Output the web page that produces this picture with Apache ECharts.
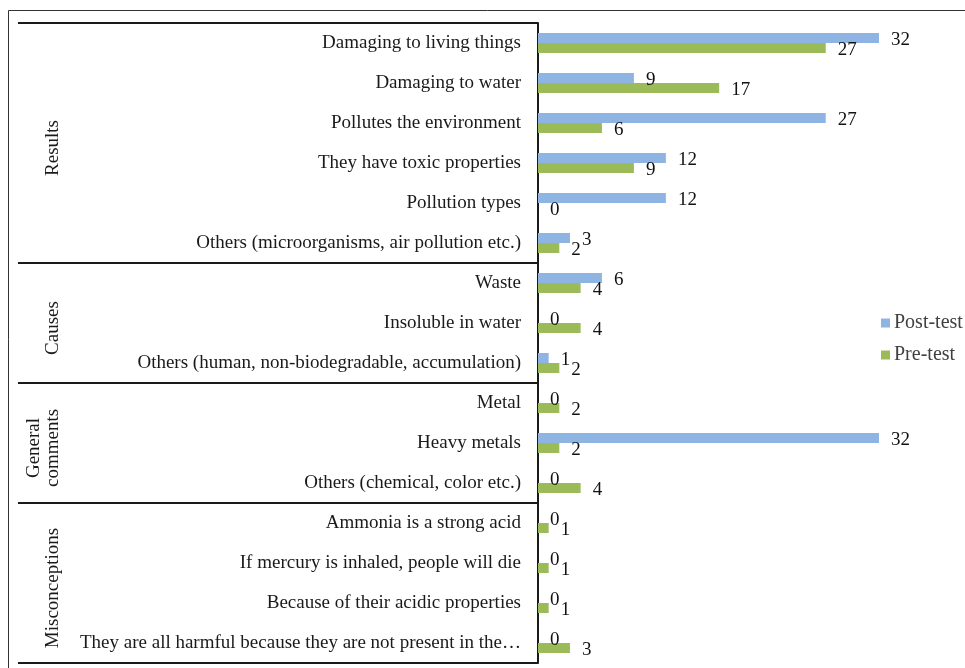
<!DOCTYPE html>
<html><head><meta charset="utf-8">
<script src="https://cdn.jsdelivr.net/npm/echarts@6/dist/echarts.min.js"></script>
<style>html,body{margin:0;padding:0;background:#fff}#c{width:965px;height:668px}</style>
</head><body><div id="c"></div>
<script>
const categories = [
  'Damaging to living things',
  'Damaging to water',
  'Pollutes the environment',
  'They have toxic properties',
  'Pollution types',
  'Others (microorganisms, air pollution etc.)',
  'Waste',
  'Insoluble in water',
  'Others (human, non-biodegradable, accumulation)',
  'Metal',
  'Heavy metals',
  'Others (chemical, color etc.)',
  'Ammonia is a strong acid',
  'If mercury is inhaled, people will die',
  'Because of their acidic properties',
  'They are all harmful because they are not present in the…'
];
const postTest = [32, 9, 27, 12, 12, 3, 6, 0, 1, 0, 32, 0, 0, 0, 0, 0];
const preTest  = [27, 17, 6, 9, 0, 2, 4, 4, 2, 2, 2, 4, 1, 1, 1, 3];
const seriesNames = ['Post-test', 'Pre-test'];
const groupNames = ['Results', 'Causes', 'General\ncomments', 'Misconceptions'];
const groupSizes = [6, 3, 3, 4];

const FONT = 'Liberation Serif';
const chart = echarts.init(document.getElementById('c'), null, {renderer: 'canvas'});
const lbl = {show: true, position: 'right', distance: 12, offset: [0, 2], color: '#111', fontFamily: FONT, fontSize: 19};
chart.setOption({
  animation: false,
  grid: {left: 538, top: 23, width: 341, height: 640, containLabel: false},
  xAxis: {type: 'value', min: 0, max: 32, show: false},
  yAxis: {
    type: 'category', data: categories, inverse: true,
    axisLine: {lineStyle: {color: '#1a1a1a', width: 2}},
    axisTick: {show: false},
    axisLabel: {margin: 17, color: '#1a1a1a', fontFamily: FONT, fontSize: 19}
  },
  legend: {
    orient: 'vertical', left: 881, top: 313, padding: 0, itemWidth: 9, itemHeight: 9, itemGap: 12, icon: 'rect',
    data: seriesNames,
    textStyle: {fontFamily: FONT, fontSize: 20, lineHeight: 20, color: '#404040', padding: [0, 0, 0, -1]}
  },
  series: [
    {name: seriesNames[0], type: 'bar', data: postTest, barWidth: 10, barGap: '0%', itemStyle: {color: '#8EB4E3'}, label: lbl},
    {name: seriesNames[1], type: 'bar', data: preTest, barWidth: 10, barGap: '0%', itemStyle: {color: '#9BBB59'}, label: lbl}
  ]
});

// group separators and labels computed from the category axis
const yOf = i => chart.convertToPixel({yAxisIndex: 0}, i);
const band = yOf(1) - yOf(0);
const axisX = chart.convertToPixel({xAxisIndex: 0}, 0);
const elements = [{
  type: 'rect', shape: {x: 8.5, y: 10.5, width: 980, height: 680},
  style: {fill: 'none', stroke: '#333', lineWidth: 1}, silent: true
}];
let start = 0;
const boundaries = [yOf(0) - band / 2];
groupSizes.forEach((n, g) => {
  const top = yOf(start) - band / 2;
  const bottom = yOf(start + n - 1) + band / 2;
  boundaries.push(bottom);
  elements.push({
    type: 'text', x: 63, y: (top + bottom) / 2 + 5, rotation: Math.PI / 2,
    style: {text: groupNames[g], fontFamily: FONT, fontSize: 19, lineHeight: 19, fill: '#1a1a1a', align: 'center', verticalAlign: 'bottom'}
  });
  start += n;
});
boundaries.forEach(y => {
  elements.push({type: 'line', shape: {x1: 18, y1: y, x2: axisX, y2: y}, style: {stroke: '#1a1a1a', lineWidth: 2}});
});
chart.setOption({graphic: {elements: elements}});
</script></body></html>
